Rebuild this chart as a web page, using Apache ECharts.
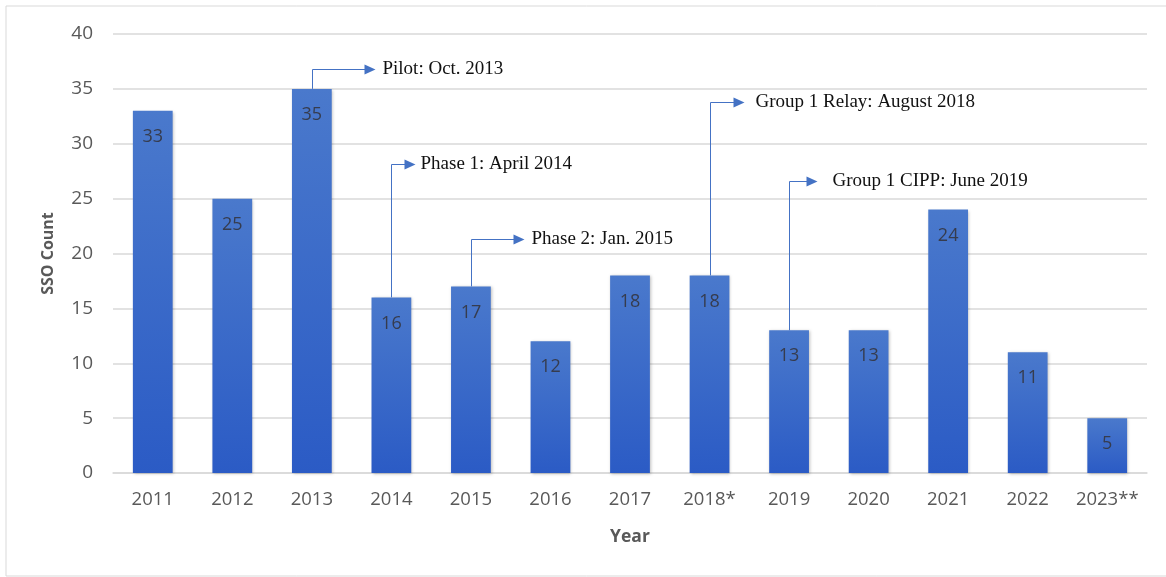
<!DOCTYPE html>
<html>
<head>
<meta charset="utf-8">
<script src="https://cdn.jsdelivr.net/npm/echarts@6/dist/echarts.min.js"></script>
<style>html,body{margin:0;padding:0;background:#fff;}#c{width:1166px;height:577px;}</style>
</head>
<body>
<div id="c"></div>
<script>
var categories = ['2011','2012','2013','2014','2015','2016','2017','2018*','2019','2020','2021','2022','2023**'];
var ssoCounts = [33,25,35,16,17,12,18,18,13,13,24,11,5];
var yTicks = [0,5,10,15,20,25,30,35,40];

// annotations: category, elbow level (SSO count units), text
var annotCats = ['2013','2014','2015','2018*','2019'];
var annotLevels = [36.8,28.15,21.3,33.8,26.6];
var annotTexts = ['Pilot: Oct. 2013','Phase 1: April 2014','Phase 2: Jan. 2015','Group 1 Relay: August 2018','Group 1 CIPP: June 2019'];
// styling (pixels): arrow horizontal length, gap before text
var annotArrowLen = [63,24,53,34,28];
var annotTextGap = [7,5,7,11,15];

var chart = echarts.init(document.getElementById('c'));
var annotData = annotCats.map(function(c,i){
  var idx = categories.indexOf(c);
  return [idx, ssoCounts[idx], annotLevels[i], i];
});
var blue = '#4472C4';
chart.setOption({
  animation:false,
  graphic:[{type:'rect',shape:{x:6,y:6,width:1170,height:570},style:{fill:'none',stroke:'#d9d9d9',lineWidth:1},silent:true}],
  grid:{left:113,right:19,top:34,bottom:104},
  xAxis:{
    type:'category',data:categories,
    name:'Year',nameLocation:'middle',nameGap:55,
    nameTextStyle:{fontFamily:'Open Sans',fontSize:17.5,fontWeight:'bold',color:'#595959'},
    axisLine:{lineStyle:{color:'#d9d9d9',width:1.5}},
    axisTick:{show:false},
    axisLabel:{interval:0,hideOverlap:false,fontFamily:'Open Sans',fontSize:18.5,color:'#595959',margin:17}
  },
  yAxis:{
    type:'value',min:0,max:40,interval:5,
    name:'SSO Count',nameLocation:'middle',nameGap:57,nameRotate:90,
    nameTextStyle:{fontFamily:'Open Sans',fontSize:16,fontWeight:'bold',color:'#595959'},
    axisLine:{show:false},axisTick:{show:false},
    axisLabel:{fontFamily:'Open Sans',fontSize:19,color:'#595959',margin:20,
      formatter:function(v){return yTicks.indexOf(v)>=0?String(v):'';}},
    splitLine:{lineStyle:{color:'#d9d9d9',width:1.5}}
  },
  series:[{
    type:'bar',data:ssoCounts,barWidth:'50%',
    itemStyle:{
      color:new echarts.graphic.LinearGradient(0,0,0,1,[{offset:0,color:'#4a79cc'},{offset:1,color:'#2b5bc5'}]),
      shadowColor:'rgba(0,0,0,0.25)',shadowBlur:3,shadowOffsetX:1,shadowOffsetY:1
    },
    label:{show:true,position:'insideTop',distance:17,fontFamily:'Open Sans',fontSize:18,color:'#363c4e'},
    z:2
  },{
    type:'custom',data:annotData,z:5,silent:true,
    renderItem:function(params,api){
      var idx=api.value(0), top=api.value(1), lvl=api.value(2), k=api.value(3);
      var p0=api.coord([idx,top]);
      var p1=api.coord([idx,lvl]);
      var x=Math.round(p0[0])+0.5, y0=p0[1], y1=Math.round(p1[1])+0.5;
      var tip=x+annotArrowLen[k];
      return {type:'group',children:[
        {type:'polyline',shape:{points:[[x,y0],[x,y1],[tip-9,y1]]},style:{stroke:blue,lineWidth:1,fill:null}},
        {type:'polygon',shape:{points:[[tip-11,y1-5],[tip,y1],[tip-11,y1+5]]},style:{fill:blue}},
        {type:'text',x:tip+annotTextGap[k],y:y1,style:{text:annotTexts[k],fontFamily:'Liberation Serif',fontSize:19,fill:'#111',verticalAlign:'middle',align:'left'}}
      ]};
    }
  }]
});
</script>
</body>
</html>
